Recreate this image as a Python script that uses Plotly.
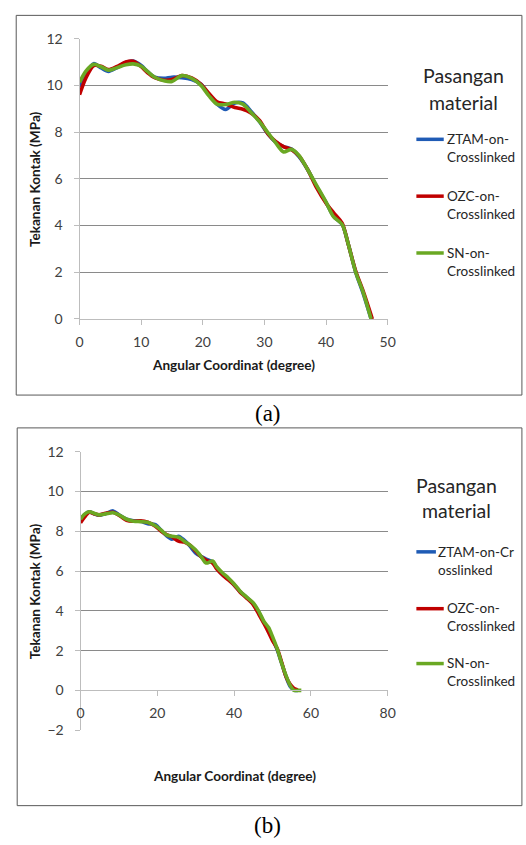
import plotly.graph_objects as go

W, H = 526, 845

# ---------------- data (a) ----------------
a_x = [0, 1, 2.3, 3.5, 4.7, 6, 7.5, 8.7, 10, 11, 12.2, 13.7, 15, 16.6, 18.2, 19.7,
       21, 22.3, 23.7, 25.2, 26.5, 27.8, 29.2, 30.5, 31.8, 33.1, 34.4, 35.6, 37,
       38.5, 40, 41.2, 42.6, 43.6, 44.8, 46, 47.3]
a_ztam = [9.95, 10.5, 10.93, 10.75, 10.6, 10.75, 10.98, 11.04, 10.85, 10.6, 10.35, 10.3,
          10.35, 10.33, 10.25, 10.05, 9.6, 9.2, 8.97, 9.25, 9.25, 8.9, 8.45, 7.95, 7.58,
          7.38, 7.27, 6.95, 6.4, 5.65, 4.98, 4.4, 4.05, 3.2, 2.0, 1.1, 0.0]
a_ozc_x = a_x[:-1] + [47.5]
a_ozc = [9.6, 10.3, 10.85, 10.82, 10.68, 10.8, 11.0, 11.03, 10.8, 10.55, 10.33, 10.22,
         10.25, 10.42, 10.32, 10.05, 9.65, 9.3, 9.2, 9.05, 8.98, 8.82, 8.5, 7.95, 7.6,
         7.38, 7.25, 6.98, 6.4, 5.6, 4.95, 4.55, 4.1, 3.2, 2.05, 1.2, 0.0]
a_sn = [10.13, 10.6, 10.9, 10.8, 10.65, 10.75, 10.88, 10.92, 10.82, 10.6, 10.35, 10.2,
        10.17, 10.42, 10.3, 10.0, 9.55, 9.2, 9.18, 9.28, 9.2, 8.85, 8.45, 8.0, 7.55,
        7.15, 7.26, 7.0, 6.4, 5.7, 5.0, 4.38, 4.05, 3.2, 2.0, 1.15, 0.0]

# ---------------- data (b) ----------------
b_x = [0, 1, 2.3, 3.5, 4.8, 6.5, 8.5, 10.2, 12, 13.8, 15.6, 17.5, 19.5, 21, 22.5, 23.8,
       25.5, 27, 28.5, 30, 31.5, 32.7, 34.4, 35.5, 37, 38.5, 40, 41.5, 43.2, 45, 46.5,
       47.8, 49, 50, 51.2, 52.4, 53.5, 54.6, 55.6, 56.6, 57.5]
b_ztam = [8.55, 8.82, 8.98, 8.88, 8.8, 8.88, 9.02, 8.8, 8.6, 8.52, 8.5, 8.38, 8.33, 8.05,
          7.75, 7.6, 7.75, 7.55, 7.25, 6.9, 6.72, 6.6, 6.45, 6.15, 5.8, 5.6, 5.3, 4.98,
          4.68, 4.35, 3.9, 3.4, 3.05, 2.6, 2.05, 1.35, 0.7, 0.2, 0.02, 0.0]
b_ozc = [8.42, 8.7, 8.95, 8.88, 8.82, 8.9, 8.95, 8.78, 8.55, 8.5, 8.52, 8.45, 8.25, 8.0,
         7.82, 7.72, 7.5, 7.45, 7.3, 7.0, 6.7, 6.55, 6.4, 6.1, 5.8, 5.55, 5.3, 4.95, 4.65,
         4.3, 3.8, 3.35, 2.9, 2.5, 2.1, 1.4, 0.7, 0.3, 0.1, 0.02]
b_sn = [8.6, 8.85, 8.98, 8.9, 8.82, 8.87, 8.93, 8.8, 8.6, 8.5, 8.48, 8.45, 8.27, 8.05,
        7.8, 7.75, 7.7, 7.5, 7.3, 7.05, 6.7, 6.4, 6.5, 6.2, 5.9, 5.65, 5.35, 5.0, 4.7,
        4.4, 3.95, 3.45, 3.15, 2.7, 2.1, 1.35, 0.75, 0.25, 0.0, 0.0, 0.0]

names_a = ["ZTAM-on-<br>Crosslinked", "OZC-on-<br>Crosslinked", "SN-on-<br>Crosslinked"]
names_b = ["ZTAM-on-Cr<br>osslinked", "OZC-on-<br>Crosslinked", "SN-on-<br>Crosslinked"]
colors = ["#1F5BB5", "#C00000", "#6AA823"]

a_ticks_x = [0, 10, 20, 30, 40, 50]
b_ticks_x = [0, 20, 40, 60, 80]

FONT = "Lato"
TICKC = "#404040"
GRIDC = "#8A8A8A"
AXC = "#BDBDBD"
LW = 3.6


def px(x):
    return x / W


def py(y):
    return 1 - y / H


fig = go.Figure()

for xs, ys, c in [(a_x, a_ztam, colors[0]), (a_ozc_x, a_ozc, colors[1]), (a_x, a_sn, colors[2])]:
    fig.add_trace(go.Scatter(x=xs, y=ys, mode="lines", xaxis="x", yaxis="y",
                             line=dict(color=c, width=LW, shape="spline", smoothing=0.8),
                             showlegend=False, hoverinfo="skip"))

for ys, c in [(b_ztam, colors[0]), (b_ozc, colors[1]), (b_sn, colors[2])]:
    n = len(ys)
    fig.add_trace(go.Scatter(x=b_x[:n], y=ys, mode="lines", xaxis="x2", yaxis="y2",
                             line=dict(color=c, width=LW, shape="spline", smoothing=0.8),
                             showlegend=False, hoverinfo="skip"))

tickfont = dict(family=FONT, size=14, color=TICKC)

# plot area geometry (pixels)
A_L, A_R, A_T, A_B = 77.3, 392.7, 30.3, 316.3
B_L, B_R, B_T, B_B = 78.3, 392.7, 451.7, 736.0
B_ZERO = 695.0

fig.update_layout(
    width=W, height=H, margin=dict(l=0, r=0, t=0, b=0),
    paper_bgcolor="white", plot_bgcolor="white",
    xaxis=dict(domain=[px(A_L), px(A_R)], range=[0, 50], tickvals=a_ticks_x,
               showgrid=False, zeroline=False, showline=True, linecolor=AXC, linewidth=1,
               ticks="outside", ticklen=5, tickcolor=AXC, tickfont=tickfont,
               ticklabelstandoff=5, anchor="y", fixedrange=True),
    yaxis=dict(domain=[py(A_B), py(A_T)], range=[0, 12], dtick=2,
               showgrid=True, gridcolor=GRIDC, gridwidth=1, zeroline=False,
               showline=True, linecolor=AXC, linewidth=1,
               ticks="outside", ticklen=5, tickcolor=AXC, tickfont=tickfont,
               ticklabelstandoff=8, anchor="x", fixedrange=True),
    xaxis2=dict(domain=[px(B_L), px(B_R)], range=[0, 80], tickvals=b_ticks_x,
                showgrid=False, zeroline=False, showline=True, linecolor=AXC, linewidth=1,
                ticks="outside", ticklen=5, tickcolor=AXC, tickfont=tickfont,
                ticklabelstandoff=5, anchor="free", position=py(B_ZERO), fixedrange=True),
    yaxis2=dict(domain=[py(B_B), py(B_T)], range=[-2, 12], dtick=2,
                showgrid=True, gridcolor=GRIDC, gridwidth=1, zeroline=False,
                showline=True, linecolor=AXC, linewidth=1,
                ticks="outside", ticklen=5, tickcolor=AXC, tickfont=tickfont,
                ticklabelstandoff=8, anchor="x2", fixedrange=True),
)

shapes = []
# outer frames
shapes.append(dict(type="rect", xref="paper", yref="paper", x0=px(12.5), x1=px(530),
                   y0=py(394), y1=py(6.5), line=dict(color="#595959", width=1)))
shapes.append(dict(type="rect", xref="paper", yref="paper", x0=px(13.5), x1=px(530),
                   y0=py(813), y1=py(427.5), line=dict(color="#595959", width=1)))

annotations = []
titlefont = dict(family=FONT, size=13.6, color="#1a1a1a", weight="bold")

# axis titles
for xc, yc, text, ang in [((A_L + A_R) / 2, 363, "Angular Coordinat (degree)", 0),
                          (32, (A_T + A_B) / 2, "Tekanan Kontak (MPa)", -90),
                          ((B_L + B_R) / 2, 783, "Angular Coordinat (degree)", 0),
                          (32, (B_T + B_B) / 2, "Tekanan Kontak (MPa)", -90)]:
    annotations.append(dict(x=px(xc), y=py(yc), xref="paper", yref="paper", text=text,
                            textangle=ang, showarrow=False, font=titlefont,
                            xanchor="center", yanchor="middle"))

legfont = dict(family=FONT, size=13.5, color="#262626")
ltitlefont = dict(family=FONT, size=19.5, color="#262626")

# legend titles
for xc, y1, y2 in [(470, 68, 95), (463, 486, 512)]:
    annotations.append(dict(x=px(xc), y=py(y1), xref="paper", yref="paper", text="Pasangan",
                            showarrow=False, font=ltitlefont, xanchor="center", yanchor="middle"))
    annotations.append(dict(x=px(xc), y=py(y2), xref="paper", yref="paper", text="material",
                            showarrow=False, font=ltitlefont, xanchor="center", yanchor="middle"))

# legend entries (a)
for i, (yl, name) in enumerate(zip([133, 191, 249], names_a)):
    shapes.append(dict(type="line", xref="paper", yref="paper", x0=px(422), x1=px(450),
                       y0=py(yl), y1=py(yl), line=dict(color=colors[i], width=3.5)))
    annotations.append(dict(x=px(451), y=py(yl - 10.5), xref="paper", yref="paper", text=name,
                            showarrow=False, font=legfont, xanchor="left", yanchor="top",
                            align="left"))
# legend entries (b)
for i, (yl, name, xe, xt) in enumerate(zip([554, 612, 668], names_b,
                                           [442, 450, 450], [442, 451, 451])):
    shapes.append(dict(type="line", xref="paper", yref="paper", x0=px(422), x1=px(xe),
                       y0=py(yl), y1=py(yl), line=dict(color=colors[i], width=3.5)))
    annotations.append(dict(x=px(xt), y=py(yl - 10.5), xref="paper", yref="paper", text=name,
                            showarrow=False, font=legfont, xanchor="left", yanchor="top",
                            align="left"))

# captions
for yc, text in [(413, "(a)"), (833, "(b)")]:
    annotations.append(dict(x=px(270), y=py(yc), xref="paper", yref="paper", text=text,
                            showarrow=False,
                            font=dict(family="Liberation Serif", size=23, color="black"),
                            xanchor="center", yanchor="middle"))

fig.update_layout(shapes=shapes, annotations=annotations)
fig.write_html("out.html")
